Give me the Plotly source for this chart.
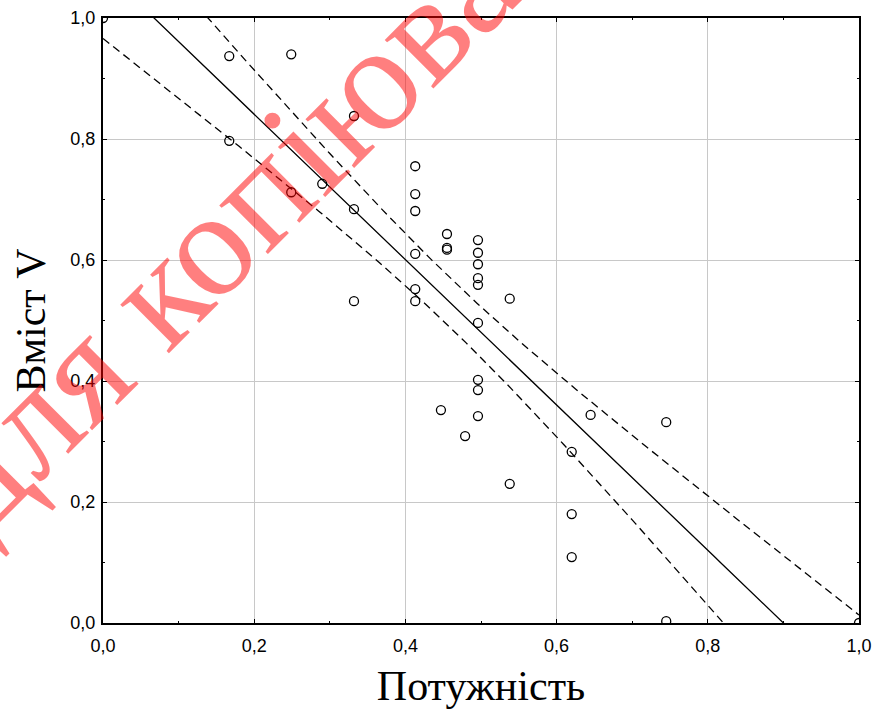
import numpy as np
import plotly.graph_objects as go

# Data (normalized power vs. V content)
power = [0.000, 0.167, 0.167, 0.249, 0.249, 0.290, 0.332, 0.332, 0.332,
         0.413, 0.413, 0.413, 0.413, 0.413, 0.413,
         0.455, 0.455, 0.455,
         0.496, 0.496, 0.496, 0.496, 0.496, 0.496, 0.496, 0.496, 0.496,
         0.538, 0.538, 0.447, 0.479, 0.645, 0.620, 0.620, 0.620,
         0.745, 0.745, 1.000]
content_v = [1.000, 0.937, 0.797, 0.940, 0.712, 0.726, 0.838, 0.684, 0.532,
             0.755, 0.709, 0.681, 0.610, 0.552, 0.532,
             0.643, 0.617, 0.620,
             0.633, 0.612, 0.593, 0.570, 0.559, 0.496, 0.402, 0.385, 0.342,
             0.536, 0.230, 0.352, 0.309, 0.344, 0.283, 0.180, 0.109,
             0.332, 0.003, 0.000]

tick_vals = [0.0, 0.2, 0.4, 0.6, 0.8, 1.0]
x_title = "Потужність"
y_title = "Вміст V"
watermark = "для копіювання"
T_95 = 2.028  # Student t, 95 %, df = n - 2 = 36

# Linear regression with 95 % confidence band for the mean
x = np.array(power)
y = np.array(content_v)
n = len(x)
b, a = np.polyfit(x, y, 1)
resid = y - (a + b * x)
s = np.sqrt(np.sum(resid ** 2) / (n - 2))
xbar = x.mean()
sxx = np.sum((x - xbar) ** 2)
xg = np.linspace(0.0, 1.0, 201)
yg = a + b * xg
half = T_95 * s * np.sqrt(1.0 / n + (xg - xbar) ** 2 / sxx)

fig = go.Figure()
fig.add_trace(go.Scatter(x=xg, y=yg + half, mode="lines",
                         line=dict(color="black", width=1.3, dash="8px,5px"),
                         showlegend=False, hoverinfo="skip"))
fig.add_trace(go.Scatter(x=xg, y=yg - half, mode="lines",
                         line=dict(color="black", width=1.3, dash="8px,5px"),
                         showlegend=False, hoverinfo="skip"))
fig.add_trace(go.Scatter(x=xg, y=yg, mode="lines",
                         line=dict(color="black", width=1.3),
                         showlegend=False, hoverinfo="skip"))
fig.add_trace(go.Scatter(x=power, y=content_v, mode="markers",
                         marker=dict(symbol="circle-open", size=9,
                                     line=dict(color="black", width=1.3),
                                     color="black"),
                         showlegend=False))

axis_common = dict(
    range=[0, 1], tickvals=tick_vals, tickformat=".1f",
    showgrid=True, gridcolor="#c8c8c8", gridwidth=1,
    showline=True, linecolor="black", linewidth=2, mirror="ticks",
    ticks="inside", ticklen=4, tickcolor="black", tickwidth=1,
    minor=dict(dtick=0.1, tick0=0, ticks="inside", ticklen=2,
               tickcolor="black", showgrid=False),
    tickfont=dict(family="Liberation Sans, Arial", size=18, color="black"),
    zeroline=False, automargin=False,
)

fig.update_xaxes(**axis_common,
                 ticklabelstandoff=5,
                 title=dict(text=x_title, standoff=16,
                            font=dict(family="Liberation Serif, Times New Roman",
                                      size=42, color="black")))
fig.update_yaxes(**axis_common,
                 ticklabelstandoff=2,
                 title=dict(text=y_title, standoff=12,
                            font=dict(family="Liberation Serif, Times New Roman",
                                      size=42, color="black")))

fig.add_annotation(text=watermark, xref="paper", yref="paper",
                   x=0.262, y=0.783, xanchor="center", yanchor="middle",
                   textangle=-45, showarrow=False,
                   font=dict(family="Liberation Serif, Times New Roman",
                             size=150, color="rgba(255,0,0,0.5)"))

fig.update_layout(
    width=877, height=714,
    margin=dict(l=103, r=18, t=18, b=91),
    paper_bgcolor="white", plot_bgcolor="white",
    separators=", ",
    showlegend=False,
)

fig.write_html("out.html")
